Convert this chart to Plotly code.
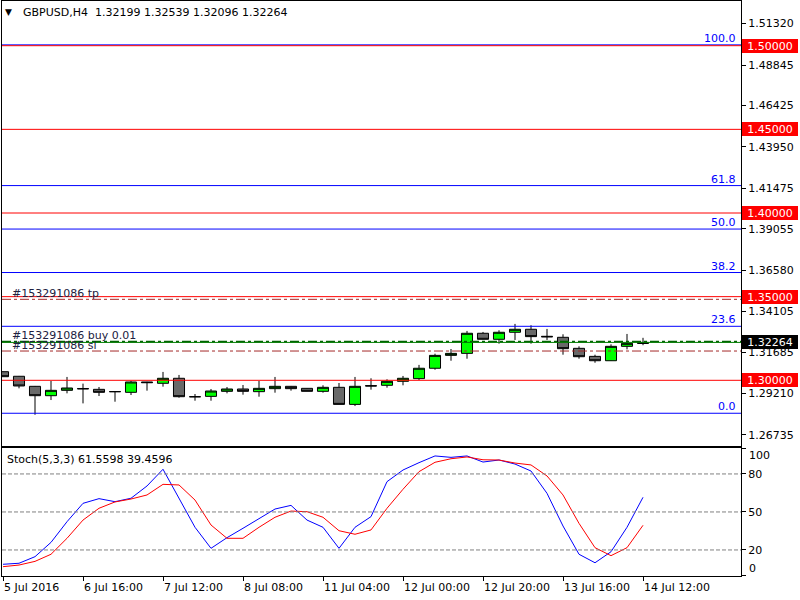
import plotly.graph_objects as go

# ---------------- data ----------------
bars = list(range(41))
opens = [1.30514, 1.3024, 1.2964, 1.2908, 1.2940, 1.2951, 1.2946, 1.29325, 1.2928, 1.2990,
         1.2982, 1.3012, 1.2902, 1.2904, 1.2934, 1.2948, 1.2932, 1.2950, 1.2964, 1.2952,
         1.2934, 1.2958, 1.2856, 1.2968, 1.2970, 1.2994, 1.3010, 1.3072, 1.3149, 1.3161,
         1.3281, 1.3245, 1.3287, 1.3305, 1.3263, 1.3257, 1.3191, 1.3143, 1.3117, 1.3203,
         1.32199]
highs = [1.3053, 1.3026, 1.2966, 1.2996, 1.3020, 1.2980, 1.2960, 1.2933, 1.2996, 1.2991,
         1.3050, 1.3032, 1.2918, 1.2948, 1.2960, 1.2972, 1.2996, 1.3020, 1.2966, 1.2953,
         1.2970, 1.2984, 1.3020, 1.3012, 1.3006, 1.3026, 1.3092, 1.3159, 1.3187, 1.3295,
         1.3289, 1.3299, 1.3337, 1.3329, 1.3307, 1.3275, 1.3203, 1.3153, 1.3215, 1.3277,
         1.32539]
lows = [1.3020, 1.2952, 1.2794, 1.2882, 1.2922, 1.2862, 1.2906, 1.2872, 1.2912, 1.2938,
        1.2962, 1.2896, 1.2878, 1.2878, 1.2922, 1.2914, 1.2902, 1.2926, 1.2938, 1.2934,
        1.2926, 1.2856, 1.2846, 1.2944, 1.2956, 1.2970, 1.3002, 1.3063, 1.3117, 1.3129,
        1.3244, 1.3219, 1.3241, 1.3219, 1.3241, 1.3153, 1.3129, 1.3105, 1.3116, 1.3185,
        1.32096]
closes = [1.30215, 1.2966, 1.2908, 1.2940, 1.2954, 1.2949, 1.2928, 1.2932, 1.2990, 1.2986,
          1.3012, 1.2902, 1.29015, 1.2936, 1.2948, 1.2934, 1.2952, 1.2964, 1.2950, 1.2934,
          1.2958, 1.2856, 1.2964, 1.2966, 1.2994, 1.3012, 1.3072, 1.3149, 1.3161, 1.3281,
          1.3245, 1.3287, 1.3305, 1.3261, 1.3260, 1.3189, 1.3141, 1.3117, 1.3203, 1.3221,
          1.32264]

stoch_main = [8.7, 9.5, 14.7, 26.0, 42.3, 56.8, 60.5, 58.1, 60.8, 70.5,
              83.7, 60.8, 37.9, 21.3, 29.7, 37.1, 44.4, 52.3, 55.2, 43.6,
              37.9, 21.3, 37.9, 46.3, 73.9, 83.1, 88.9, 94.2, 93.1, 94.2,
              89.4, 91.0, 87.8, 82.3, 64.7, 38.9, 16.6, 9.9, 18.6, 37.9,
              61.5598]
stoch_signal = [6.8, 8.1, 11.0, 16.6, 29.2, 43.6, 52.9, 57.9, 60.2, 63.4,
                71.8, 71.3, 59.4, 39.7, 29.2, 29.2, 37.9, 45.8, 50.7, 50.2,
                45.8, 35.2, 32.4, 35.8, 52.9, 67.9, 81.8, 89.2, 92.0, 93.4,
                91.2, 91.0, 88.6, 87.1, 78.4, 63.4, 41.0, 21.8, 15.5, 21.8,
                39.4596]

xtick_bars = [0, 5, 10, 15, 20, 25, 30, 35, 40]
xtick_labels = ["5 Jul 2016", "6 Jul 16:00", "7 Jul 12:00", "8 Jul 08:00", "11 Jul 04:00",
                "12 Jul 00:00", "12 Jul 20:00", "13 Jul 16:00", "14 Jul 12:00"]

price_ticks = [1.26735, 1.29210, 1.31685, 1.34105, 1.36580, 1.39055, 1.41475,
               1.43950, 1.46425, 1.48845, 1.51320]
price_tick_labels = ["%.5f" % v for v in price_ticks]

round_levels = [1.50, 1.45, 1.40, 1.35, 1.30]
fib_low, fib_high = 1.2803, 1.5005
fib_pcts = [0.0, 23.6, 38.2, 50.0, 61.8, 100.0]
tp_level = 1.3484
sl_level = 1.3175
buy_level = 1.3232
bid_level = 1.32264
stoch_levels = [20, 50, 80]

FONT = "DejaVu Sans"

fig = go.Figure()

fig.add_trace(go.Candlestick(
    x=bars, open=opens, high=highs, low=lows, close=closes,
    increasing=dict(fillcolor="#00FF00", line=dict(color="black", width=1)),
    decreasing=dict(fillcolor="#696969", line=dict(color="black", width=1)),
    whiskerwidth=0, showlegend=False, xaxis="x", yaxis="y"))

fig.add_trace(go.Scatter(x=bars, y=stoch_main, mode="lines",
                         line=dict(color="#0000FF", width=1), showlegend=False,
                         xaxis="x2", yaxis="y2"))
fig.add_trace(go.Scatter(x=bars, y=stoch_signal, mode="lines",
                         line=dict(color="#FF0000", width=1), showlegend=False,
                         xaxis="x2", yaxis="y2"))

shapes = []
annotations = []

# fibo lines
for p in fib_pcts:
    lvl = fib_low + (fib_high - fib_low) * p / 100.0
    shapes.append(dict(type="line", xref="paper", x0=0, x1=1, yref="y", y0=lvl, y1=lvl,
                       line=dict(color="#0000FF", width=1)))
    annotations.append(dict(xref="paper", x=1, xanchor="right", xshift=-3,
                            yref="y", y=lvl, yanchor="bottom", yshift=-2,
                            text="%.1f" % p, showarrow=False,
                            font=dict(family=FONT, size=11, color="#0000FF")))
# round levels
for lvl in round_levels:
    shapes.append(dict(type="line", xref="paper", x0=0, x1=1, yref="y", y0=lvl, y1=lvl,
                       line=dict(color="#FF0000", width=1)))
    annotations.append(dict(xref="paper", x=1, xanchor="left", xshift=1,
                            yref="y", y=lvl, yanchor="middle",
                            text="%.5f" % lvl, showarrow=False, bgcolor="#FF0000",
                            width=54, height=12, borderpad=1, borderwidth=0,
                            font=dict(family=FONT, size=11, color="white")))
# order lines
for lvl in [tp_level, sl_level]:
    shapes.append(dict(type="line", xref="paper", x0=0, x1=1, yref="y", y0=lvl, y1=lvl,
                       line=dict(color="#A52A2A", width=1, dash="9px,3px,3px,3px")))
shapes.append(dict(type="line", xref="paper", x0=0, x1=1, yref="y", y0=bid_level, y1=bid_level,
                   line=dict(color="#008000", width=1)))
shapes.append(dict(type="line", xref="paper", x0=0, x1=1, yref="y", y0=buy_level, y1=buy_level,
                   line=dict(color="#006400", width=1.5, dash="9px,3px,3px,3px")))

for lvl, txt in [(tp_level, "#153291086 tp"), (buy_level, "#153291086 buy 0.01"),
                 (sl_level, "#153291086 sl")]:
    annotations.append(dict(xref="paper", x=0, xanchor="left", xshift=8,
                            yref="y", y=lvl, yanchor="bottom", yshift=-3,
                            text=txt, showarrow=False,
                            font=dict(family=FONT, size=11, color="#202040")))

annotations.append(dict(xref="paper", x=1, xanchor="left", xshift=1,
                        yref="y", y=bid_level, yanchor="middle",
                        text="%.5f" % bid_level, showarrow=False, bgcolor="black",
                        width=54, height=12, borderpad=1, borderwidth=0,
                        font=dict(family=FONT, size=11, color="white")))

# stoch levels
for lvl in stoch_levels:
    shapes.append(dict(type="line", xref="paper", x0=0, x1=1, yref="y2", y0=lvl, y1=lvl,
                       line=dict(color="#808080", width=1, dash="4px,2px")))

annotations.append(dict(xref="paper", x=1, xanchor="left", xshift=6, yref="y2", y=100,
                        yanchor="middle", yshift=-7, text="100", showarrow=False,
                        font=dict(family=FONT, size=11, color="black")))
annotations.append(dict(xref="paper", x=1, xanchor="left", xshift=6, yref="y2", y=0,
                        yanchor="middle", yshift=7, text="0", showarrow=False,
                        font=dict(family=FONT, size=11, color="black")))

# x labels
for b, t in zip(xtick_bars, xtick_labels):
    annotations.append(dict(xref="x2", x=b, xanchor="left", xshift=-1,
                            yref="paper", y=0, yanchor="top", yshift=-3,
                            text=t, showarrow=False,
                            font=dict(family=FONT, size=11, color="black")))

# titles
annotations.append(dict(xref="paper", x=0, xanchor="left", xshift=19,
                        yref="paper", y=1, yanchor="top", yshift=-3,
                        text="GBPUSD,H4  1.32199 1.32539 1.32096 1.32264", showarrow=False,
                        font=dict(family=FONT, size=11, color="black")))
annotations.append(dict(xref="paper", x=0, xanchor="left", xshift=1,
                        yref="paper", y=1, yanchor="top", yshift=-4,
                        text="▼", showarrow=False,
                        font=dict(family=FONT, size=9, color="black")))
annotations.append(dict(xref="paper", x=0, xanchor="left", xshift=3,
                        yref="y2", y=100, yanchor="top", yshift=-2,
                        text="Stoch(5,3,3) 61.5598 39.4596", showarrow=False,
                        font=dict(family=FONT, size=11, color="black")))

xr = [-0.0625, 46.125]
fig.update_layout(
    width=800, height=600,
    margin=dict(l=2, r=59, t=1, b=24),
    paper_bgcolor="white", plot_bgcolor="white",
    font=dict(family=FONT, size=11, color="black"),
    boxgap=0.31, boxgroupgap=0,
    hovermode=False,
    xaxis=dict(domain=[0, 1], anchor="y", range=xr, showgrid=False, zeroline=False,
               showticklabels=False, ticks="", showline=True, mirror=True,
               linecolor="black", linewidth=1, rangeslider=dict(visible=False)),
    yaxis=dict(domain=[0.2261, 1], anchor="x", side="right", range=[1.26073, 1.52672],
               tickvals=price_ticks, ticktext=price_tick_labels, ticks="outside",
               ticklen=4, tickcolor="black", showgrid=False, zeroline=False,
               showline=True, mirror=True, linecolor="black", linewidth=1,
               tickfont=dict(family=FONT, size=11, color="black")),
    xaxis2=dict(domain=[0, 1], anchor="y2", range=xr, matches="x", showgrid=False,
                zeroline=False, tickvals=xtick_bars, ticktext=[""] * len(xtick_bars),
                ticks="outside", ticklen=4, tickcolor="black", showline=True, mirror=True,
                linecolor="black", linewidth=1),
    yaxis2=dict(domain=[0, 0.2226], anchor="x2", side="right", range=[-0.55, 100.47],
                tickvals=[0, 20, 50, 80, 100], ticktext=["", "20", "50", "80", ""],
                ticks="outside", ticklen=4, tickcolor="black", showgrid=False,
                zeroline=False, showline=True, mirror=True, linecolor="black",
                linewidth=1, tickfont=dict(family=FONT, size=11, color="black")),
    shapes=shapes, annotations=annotations,
)

fig.write_html("out.html")
